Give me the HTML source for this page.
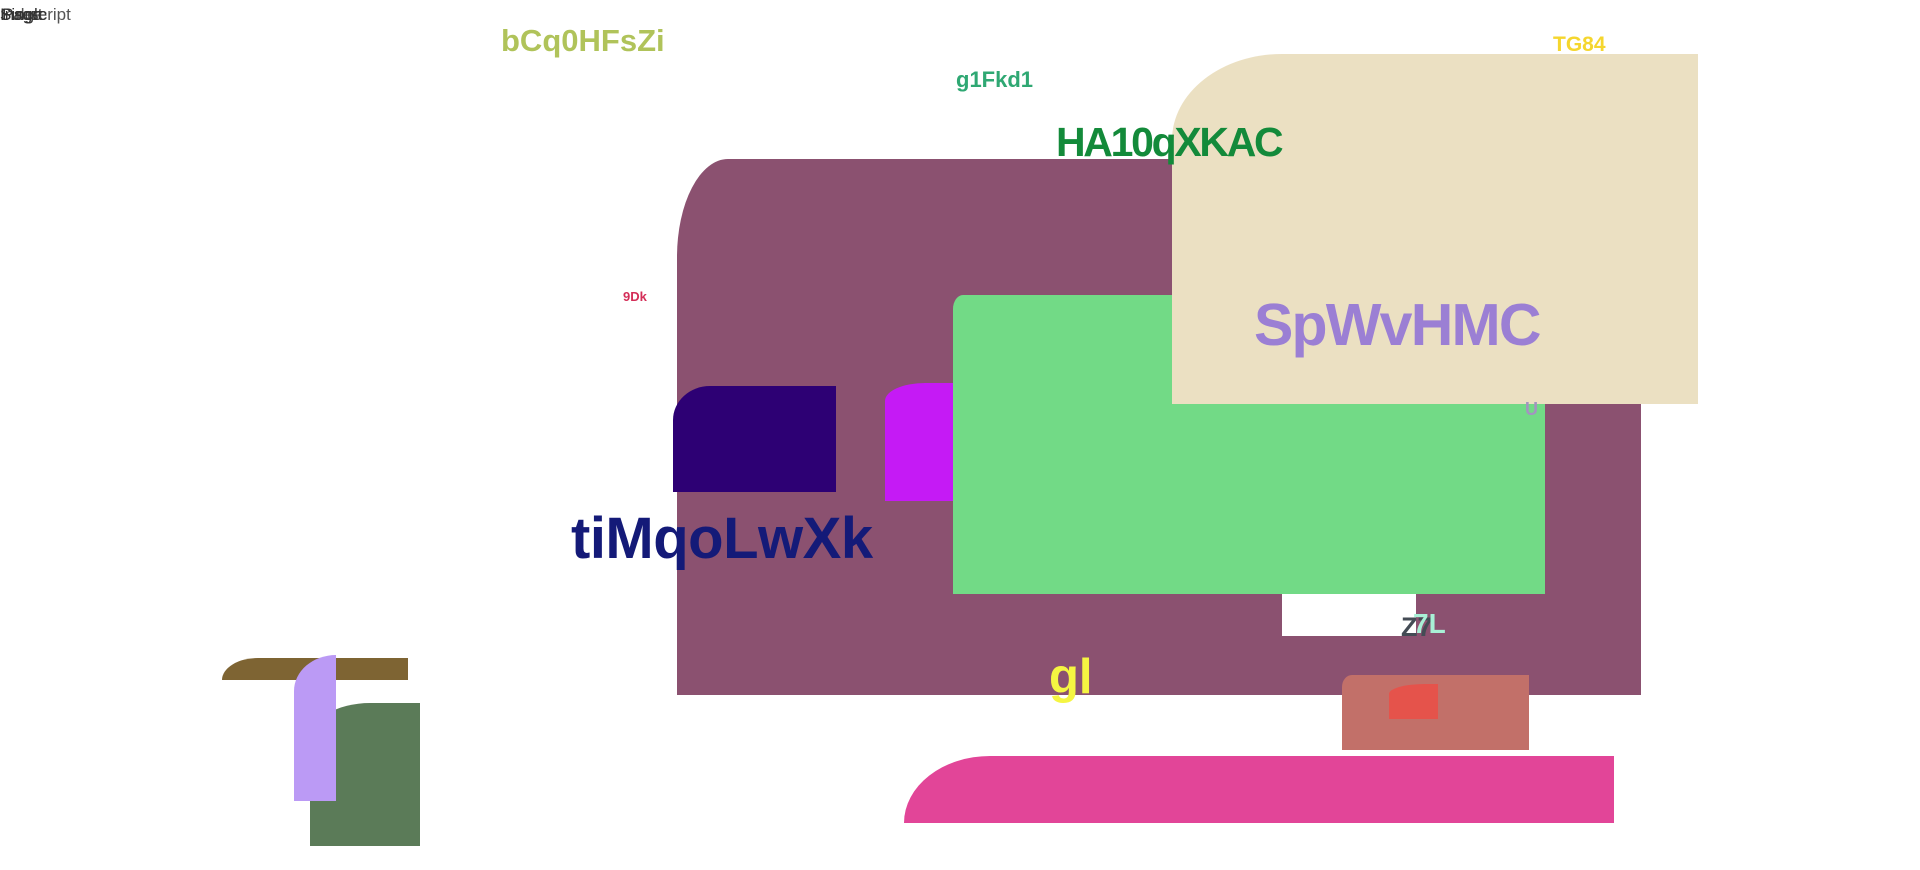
<!DOCTYPE html>
<html><head><meta charset="utf-8"><style>
body{margin:0;width:1920px;height:870px;background:#fff;position:relative;overflow:hidden;font-family:"Liberation Sans",sans-serif}
div{position:absolute}
.t{font-weight:bold;line-height:1;white-space:nowrap}
</style></head><body>
<div style="left:677px;top:159px;width:964px;height:536px;background:#8b5170;border-top-left-radius:51px 98px"></div>
<div style="left:953px;top:295px;width:592px;height:299px;background:#72da86;border-top-left-radius:10px 14px"></div>
<div style="left:1282px;top:594px;width:134px;height:42px;background:#fff"></div>
<div style="left:1172px;top:54px;width:526px;height:350px;background:#ebe0c2;border-top-left-radius:110px 86px"></div>
<div style="left:673px;top:386px;width:163px;height:106px;background:#2d0074;border-top-left-radius:37px 34px"></div>
<div style="left:885px;top:383px;width:68px;height:118px;background:#c51af5;border-top-left-radius:40px 18px"></div>
<div style="left:1342px;top:675px;width:187px;height:75px;background:#c27069;border-top-left-radius:10px 12px"></div>
<div style="left:1389px;top:684px;width:49px;height:35px;background:#e5534b;border-top-left-radius:36px 10px"></div>
<div style="left:904px;top:756px;width:710px;height:67px;background:#e24598;border-top-left-radius:86px 67px"></div>
<div style="left:222px;top:658px;width:186px;height:22px;background:#7e6433;border-top-left-radius:36px 22px"></div>
<div style="left:310px;top:703px;width:110px;height:143px;background:#5b7b58;border-top-left-radius:60px 36px"></div>
<div style="left:294px;top:655px;width:42px;height:146px;background:#bb9af5;border-top-left-radius:42px 36px"></div>

<div class="t" style="left:501px;top:25px;font-size:31px;color:#b0c35a">bCq0HFsZi</div>
<div class="t" style="left:956px;top:69px;font-size:22px;color:#2fa873">g1Fkd1</div>
<div class="t" style="left:1056px;top:122px;font-size:41px;letter-spacing:-2.3px;color:#138a3a">HA10qXKAC</div>
<div class="t" style="left:1553px;top:34px;font-size:21px;color:#f5d62e">TG84</div>
<div class="t" style="left:1254px;top:296px;font-size:59px;letter-spacing:-1.8px;color:#9b7fd4">SpWvHMC</div>
<div class="t" style="left:623px;top:290px;font-size:13px;color:#d42e58">9Dk</div>
<div class="t" style="left:1525px;top:400px;font-size:18px;color:#a394c0">U</div>
<div class="t" style="left:571px;top:510px;font-size:58px;letter-spacing:-0.5px;color:#141a78">tiMqoLwXk</div>
<div class="t" style="left:1401px;top:614px;font-size:27px;color:#444c55">Z7</div>
<div class="t" style="left:1413px;top:610px;font-size:28px;color:#a8f0d6">7L</div>
<div class="t" style="left:1049px;top:653px;font-size:49px;color:#f5f542">gl</div>

<div style="left:0;top:6px;font-size:17px;color:#333;line-height:1">
<span style="position:absolute;left:0;white-space:nowrap;color:#555">Subscript</span>
<span style="position:absolute;left:0;white-space:nowrap">Insert</span>
<span style="position:absolute;left:2px;white-space:nowrap">Page</span>
<span style="position:absolute;left:0;white-space:nowrap">Single</span>
</div>
</body></html>
